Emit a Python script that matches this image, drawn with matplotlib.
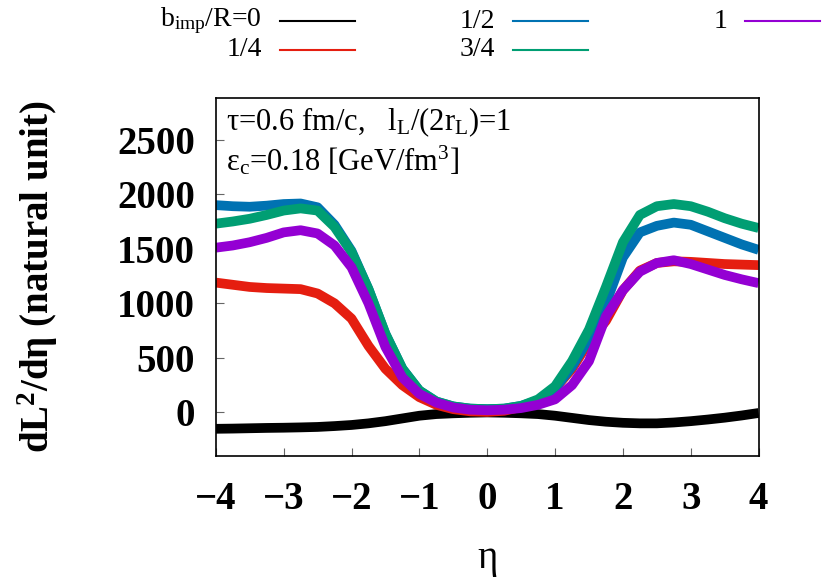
import numpy as np
import matplotlib.pyplot as plt
from matplotlib.lines import Line2D

plt.rcParams['font.family'] = ['Liberation Serif', 'DejaVu Serif']
plt.rcParams['mathtext.fontset'] = 'custom'
plt.rcParams['mathtext.rm'] = 'Liberation Serif'
plt.rcParams['mathtext.it'] = 'Liberation Serif'
plt.rcParams['mathtext.bf'] = 'Liberation Serif:bold'

# eta grid and dL^2/deta
eta = [-4.0, -3.75, -3.5, -3.25, -3.0, -2.75, -2.5, -2.25, -2.0, -1.75, -1.5,
       -1.25, -1.0, -0.75, -0.5, -0.25, 0.0, 0.25, 0.5, 0.75, 1.0, 1.25, 1.5,
       1.75, 2.0, 2.25, 2.5, 2.75, 3.0, 3.25, 3.5, 3.75, 4.0]

b0 = [-150, -148, -145, -142, -140, -137, -133, -125, -115, -100, -80,
      -55, -30, -15, -8, -3, 0, -3, -8, -15, -30, -50, -70,
      -85, -95, -100, -100, -92, -80, -65, -48, -28, -5]
b14 = [1190, 1170, 1150, 1140, 1135, 1130, 1090, 1000, 860, 610, 400,
       250, 140, 70, 30, 10, 5, 15, 50, 110, 220, 400, 650,
       840, 1120, 1300, 1370, 1385, 1380, 1370, 1360, 1355, 1350]
b12 = [1900, 1890, 1885, 1895, 1910, 1915, 1880, 1720, 1480, 1130, 720,
       400, 200, 100, 55, 35, 30, 35, 60, 110, 220, 420, 680,
       1000, 1420, 1650, 1710, 1740, 1720, 1660, 1600, 1540, 1490]
b34 = [1730, 1750, 1775, 1810, 1850, 1870, 1850, 1700, 1470, 1130, 720,
       400, 200, 100, 55, 35, 30, 35, 60, 120, 240, 470, 760,
       1150, 1560, 1810, 1890, 1910, 1890, 1840, 1780, 1730, 1690]
b1 = [1510, 1530, 1560, 1600, 1650, 1670, 1640, 1530, 1330, 1000, 600,
      320, 170, 90, 45, 25, 20, 25, 40, 70, 120, 250, 470,
      880, 1120, 1290, 1370, 1395, 1360, 1310, 1260, 1220, 1185]

series = [b0, b14, b12, b34, b1]
labels = [r'b$_{\rm imp}$/R=0', '1/4', '1/2', '3/4', '1']
colors = ['black', '#e51e10', '#0072b2', '#009e73', '#9400d3']

fig = plt.figure(figsize=(8.3, 5.81), dpi=100)
ax = fig.add_axes([0.260, 0.215, 0.654, 0.616])

for y, c in zip(series, colors):
    ax.plot(eta, y, color=c, lw=7, solid_capstyle='butt',
            solid_joinstyle='round')

ax.set_xlim(-4, 4)
ax.set_ylim(-400, 2880)
ax.set_xticks(np.arange(-4, 5, 1))
ax.set_xticklabels(['\u22124', '\u22123', '\u22122', '\u22121', '0', '1', '2', '3', '4'])
ax.set_yticks([0, 500, 1000, 1500, 2000, 2500])
ax.tick_params(direction='in', length=6, width=0.8, color='#666666',
               labelsize=28)
ax.tick_params(axis='x', pad=18)
ax.tick_params(axis='y', pad=15)
for lab in ax.get_xticklabels() + ax.get_yticklabels():
    lab.set_fontweight('bold')
for s in ax.spines.values():
    s.set_linewidth(1.2)

ax.set_ylabel(r'dL$^{\mathbf{2}}$/d$\mathbf{\eta}$ (natural unit)', fontsize=28,
              fontweight='bold')
ax.yaxis.set_label_coords(-0.287, 0.5)
ax.set_xlabel('\u03b7', fontsize=28)
ax.xaxis.set_label_coords(0.5, -0.235)

ax.text(0.018, 0.911, '\u03c4=0.6 fm/c,   l$_{\\rm L}$/(2r$_{\\rm L}$)=1',
        transform=ax.transAxes, fontsize=22, va='baseline')
ax.text(0.018, 0.799, '\u03b5$_{\\rm c}$=0.18 [GeV/fm$^3$]',
        transform=ax.transAxes, fontsize=22, va='baseline')

# legend drawn above the axes, text left of each key
W, H = 830.0, 581.0
cols = [(262, 280, 355), (495, 513, 588), (727, 745, 820)]
rows = [21, 50]
slots = [(0, 0), (0, 1), (1, 0), (1, 1), (2, 0)]
for lab, c, (ci, ri) in zip(labels, colors, slots):
    tx, x0, x1 = cols[ci]
    y = 1 - rows[ri] / H
    fig.text(tx / W, y, lab, ha='right', va='center', fontsize=20)
    fig.add_artist(Line2D([x0 / W, x1 / W], [y, y], color=c, lw=1.5,
                          transform=fig.transFigure))

fig.savefig('out.png', dpi=100)
